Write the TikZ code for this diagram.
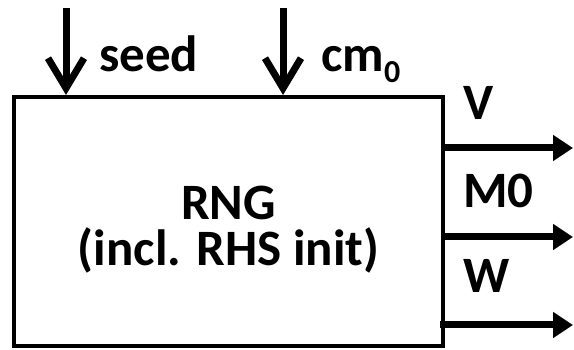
\documentclass[tikz,border=0pt]{standalone}
\usepackage{fontspec}
\setmainfont{Carlito}
\usetikzlibrary{arrows.meta}
\tikzset{
  lbl/.style={inner sep=0pt, anchor=base west, font=\bfseries\fontsize{51}{51}\selectfont},
  mid/.style={inner sep=0pt, anchor=base, font=\bfseries\fontsize{51}{51}\selectfont},
  inarrow/.style={line width=7pt, -{Straight Barb[length=30pt,width=36pt]}},
  outarrow/.style={line width=7pt, -{Triangle[length=20pt,width=25pt]}},
  blockbox/.style={draw, line width=4pt, minimum width=429pt, minimum height=249pt, inner sep=0pt}
}
\begin{document}
\begin{tikzpicture}[x=1pt,y=-1pt]
\useasboundingbox (0,0) rectangle (574,350);
\node[blockbox] (rng) at (228.5,221.5) {};
\node[mid] (t1) at (228.5,220) {RNG};
\node[mid] (t2) at (228.5,266) {(incl. RHS init)};
\coordinate (s0) at (66,8);
\coordinate (c0) at (283,8);
\draw[inarrow] (s0) -- (s0 |- rng.north);
\draw[inarrow] (c0) -- (c0 |- rng.north);
\node[lbl] (seed) at (99,72) {seed};
\node[lbl] (cm) at (321,72) {cm\fontsize{32}{32}\selectfont\raisebox{-11pt}{0}};
\coordinate (v) at (573,148);
\coordinate (m) at (573,237);
\coordinate (w) at (573,325);
\draw[outarrow] (rng.east |- v) -- (v);
\draw[outarrow] (rng.east |- m) -- (m);
\draw[outarrow] ([xshift=-5pt]rng.east |- w) -- (w);
\node[lbl] (vl) at (463,120) {V};
\node[lbl] (ml) at (463,208) {M0};
\node[lbl] (wl) at (463,293) {W};
\end{tikzpicture}
\end{document}
